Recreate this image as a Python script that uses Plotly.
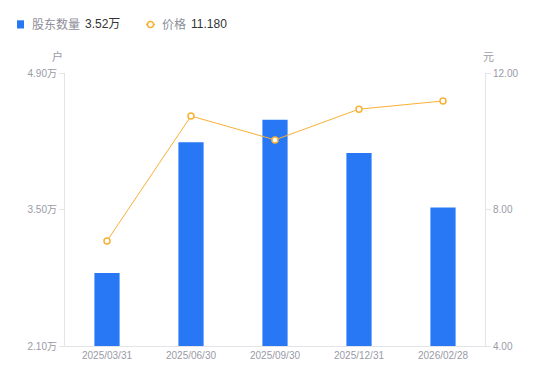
import plotly.graph_objects as go

dates = ["2025/03/31", "2025/06/30", "2025/09/30", "2025/12/31", "2026/02/28"]
holders = [2.85, 4.19, 4.42, 4.08, 3.52]   # 万户
prices = [7.08, 10.74, 10.04, 10.94, 11.18]  # 元

left_ticks = [2.10, 3.50, 4.90]
left_ticktext = ["2.10万", "3.50万", "4.90万"]
right_ticks = [4, 8, 12]
right_ticktext = ["4.00", "8.00", "12.00"]

FONT = "Liberation Sans, Arial, Noto Sans CJK SC, sans-serif"
BLUE = "#2878F6"
ORANGE = "#F8B135"
GRAY = "#9A9AA6"
LEG_GRAY = "#8E8E99"
DARK = "#333333"
AXIS = "#E3E3E8"

fig = go.Figure()
fig.add_trace(go.Bar(x=dates, y=holders, marker=dict(color=BLUE, line=dict(width=0)),
                     width=0.3, yaxis="y", showlegend=False, hoverinfo="skip"))
fig.add_trace(go.Scatter(x=dates, y=prices, yaxis="y2", mode="lines+markers",
                         line=dict(color=ORANGE, width=1),
                         marker=dict(symbol="circle", size=6, color="white",
                                     line=dict(color=ORANGE, width=1.5)),
                         showlegend=False, hoverinfo="skip"))

fig.update_layout(
    width=550, height=381,
    margin=dict(l=65, r=65, t=73, b=35),
    plot_bgcolor="white", paper_bgcolor="white",
    font=dict(family=FONT, size=10, color=GRAY),
    xaxis=dict(type="category", showline=True, linecolor=AXIS, linewidth=1,
               ticks="", showgrid=False, tickfont=dict(size=10, color=GRAY),
               zeroline=False),
    yaxis=dict(range=[2.1, 4.9], tickvals=left_ticks, ticktext=left_ticktext,
               showline=True, linecolor=AXIS, linewidth=1, ticks="outside",
               ticklen=5, tickcolor=AXIS, showgrid=False, zeroline=False,
               tickfont=dict(size=10, color=GRAY)),
    yaxis2=dict(range=[4, 12], tickvals=right_ticks, ticktext=right_ticktext,
                overlaying="y", side="right", showline=True, linecolor=AXIS,
                linewidth=1, ticks="outside", ticklen=5, tickcolor=AXIS,
                showgrid=False, zeroline=False, tickfont=dict(size=10, color=GRAY)),
)

# axis unit titles
fig.add_annotation(xref="paper", yref="paper", x=-0.017, y=1.06, text="户",
                   showarrow=False, font=dict(size=11, color=GRAY),
                   xanchor="center", yanchor="middle")
fig.add_annotation(xref="paper", yref="paper", x=1.0095, y=1.06, text="元",
                   showarrow=False, font=dict(size=11, color=GRAY),
                   xanchor="center", yanchor="middle")

# custom legend
LY = 1.178
fig.add_shape(type="rect", xref="paper", yref="paper",
              x0=-0.1143, x1=-0.0976, y0=1.163, y1=1.193, fillcolor=BLUE, line=dict(width=0))
fig.add_annotation(xref="paper", yref="paper", x=-0.083, y=LY, xanchor="left",
                   yanchor="middle", showarrow=False, text="股东数量",
                   font=dict(size=12, color=LEG_GRAY))
fig.add_annotation(xref="paper", yref="paper", x=0.042, y=LY, xanchor="left",
                   yanchor="middle", showarrow=False, text="3.52万",
                   font=dict(size=12, color=DARK))
fig.add_shape(type="line", xref="paper", yref="paper", x0=0.1929, x1=0.2143,
              y0=LY, y1=LY, line=dict(color=ORANGE, width=1.5))
fig.add_shape(type="circle", xref="paper", yref="paper",
              x0=0.2036 - 0.0071, x1=0.2036 + 0.0071, y0=LY - 0.011, y1=LY + 0.011,
              fillcolor="white", line=dict(color=ORANGE, width=1.5))
fig.add_annotation(xref="paper", yref="paper", x=0.2255, y=LY, xanchor="left",
                   yanchor="middle", showarrow=False, text="价格",
                   font=dict(size=12, color=LEG_GRAY))
fig.add_annotation(xref="paper", yref="paper", x=0.295, y=LY, xanchor="left",
                   yanchor="middle", showarrow=False, text="11.180",
                   font=dict(size=12, color=DARK))

fig.write_html("out.html", config={"displayModeBar": False},
               post_script="document.body.style.margin='0px';")
